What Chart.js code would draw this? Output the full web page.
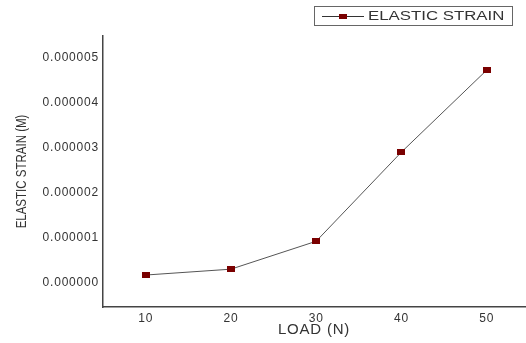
<!DOCTYPE html>
<html><head><meta charset="utf-8">
<script src="https://cdn.jsdelivr.net/npm/chart.js@4/dist/chart.umd.min.js"></script>
<style>html,body{margin:0;padding:0;background:#fff;overflow:hidden}#wrap{width:526px;height:343px;overflow:hidden}</style>
</head><body><div id="wrap"><canvas id="c" width="530" height="343"></canvas></div>
<script>
const loads = [10, 20, 30, 40, 50];
const strain = [0.00000018, 0.00000031, 0.00000093, 0.00000291, 0.00000473];
const yTicks = [0, 0.000001, 0.000002, 0.000003, 0.000004, 0.000005];
const xTicks = [10, 20, 30, 40, 50];
const seriesLabel = 'ELASTIC STRAIN';
const xTitle = 'LOAD (N)';
const yTitle = 'ELASTIC STRAIN (M)';

const FONT = '"Liberation Sans", Arial, sans-serif';

function makeMarker(w, h, color) {
  const cv = document.createElement('canvas');
  cv.width = w; cv.height = h;
  const c = cv.getContext('2d');
  c.fillStyle = color; c.fillRect(0, 0, w, h);
  return cv;
}
const markerColor = '#7a0000';
const marker = makeMarker(8, 6, markerColor);

const textPlugin = {
  id: 'textExtras',
  beforeDraw(chart) {
    chart.ctx.letterSpacing = '0.8px';
  },
  afterDraw(chart) {
    const ctx = chart.ctx;
    const ds = chart.data.datasets[0];
    ctx.save();
    ctx.letterSpacing = '0px';
    ctx.translate(22, (chart.chartArea.top + chart.chartArea.bottom) / 2);
    ctx.rotate(-Math.PI / 2);
    ctx.fillStyle = '#333';
    ctx.font = '11.5px ' + FONT;
    ctx.textAlign = 'center';
    ctx.textBaseline = 'middle';
    ctx.scale(1, 1.3);
    ctx.fillText(yTitle, 0, 0);
    ctx.restore();
    ctx.save();
    ctx.letterSpacing = '0px';
    ctx.strokeStyle = '#666';
    ctx.lineWidth = 1;
    ctx.strokeRect(314.5, 6.5, 198, 19);
    ctx.strokeStyle = '#333';
    ctx.beginPath(); ctx.moveTo(322, 16.5); ctx.lineTo(364, 16.5); ctx.stroke();
    ctx.fillStyle = markerColor;
    ctx.fillRect(339, 14, 8, 5);
    ctx.fillStyle = '#333';
    ctx.font = '12px ' + FONT;
    ctx.textBaseline = 'middle';
    ctx.translate(368, 16.5);
    ctx.scale(1.4, 1);
    ctx.fillText(ds.label, 0, 0);
    ctx.restore();
  }
};

new Chart(document.getElementById('c'), {
  type: 'line',
  data: {
    datasets: [{
      label: seriesLabel,
      data: loads.map((x, i) => ({x: x, y: strain[i]})),
      borderColor: '#555',
      borderWidth: 1,
      pointStyle: marker,
      pointRadius: 4,
      tension: 0
    }]
  },
  options: {
    responsive: false,
    animation: false,
    layout: {padding: {top: 36, right: 0, left: 0, bottom: 0}},
    plugins: {legend: {display: false}, tooltip: {enabled: false}},
    scales: {
      x: {
        type: 'linear', min: 5, max: 54.5,
        afterBuildTicks: s => { s.ticks = xTicks.map(v => ({value: v})); },
        afterFit: s => { s.height = 36; s.paddingRight = 0; s.paddingLeft = 0; },
        grid: {display: false, drawTicks: false},
        border: {display: true, color: '#444', width: 1.5},
        ticks: {color: '#333', padding: 4, font: {size: 12, family: FONT}},
        title: {display: true, text: xTitle, color: '#333', padding: {top: 0, bottom: 4}, font: {size: 15, family: FONT}}
      },
      y: {
        min: -0.00000053, max: 0.00000549,
        afterBuildTicks: s => { s.ticks = yTicks.map(v => ({value: v})); },
        afterFit: s => { s.width = 103; s.paddingTop = 0; s.paddingBottom = 0; },
        grid: {display: false, drawTicks: false},
        border: {display: true, color: '#444', width: 1.5},
        ticks: {color: '#333', padding: 4, callback: v => Number(v).toFixed(6), font: {size: 12, family: FONT}},
        title: {display: false}
      }
    }
  },
  plugins: [textPlugin]
});
</script></body></html>
